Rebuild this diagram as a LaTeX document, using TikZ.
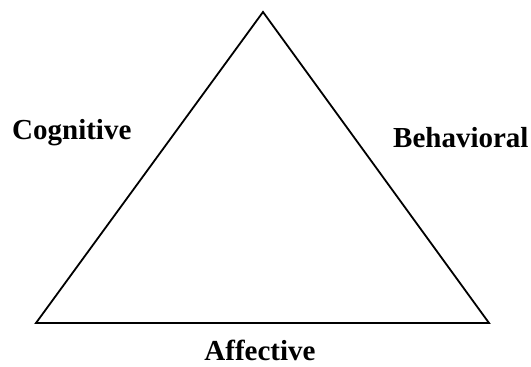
\documentclass[tikz,border=0pt]{standalone}
\usepackage{fontspec}
\setmainfont{Liberation Serif}
\begin{document}
\begin{tikzpicture}[x=1pt,y=1pt,
  lbl/.style={font=\fontsize{29}{31}\selectfont\bfseries, inner sep=0pt},
  edge/.style={line width=1.8pt, line join=miter}]
\useasboundingbox (0,0) rectangle (531,367);
\coordinate (top) at (263,355);
\coordinate (bl) at (36,44);
\coordinate (br) at (489,44);
\draw[edge] (top) -- (bl) -- (br) -- cycle;
\node[lbl, anchor=base west] (cog) at (12,227) {Cognitive};
\node[lbl, anchor=base west] (beh) at (393,219) {Behavioral};
\node[lbl, anchor=base] (aff) at (260,6) {Affective};
\end{tikzpicture}
\end{document}
